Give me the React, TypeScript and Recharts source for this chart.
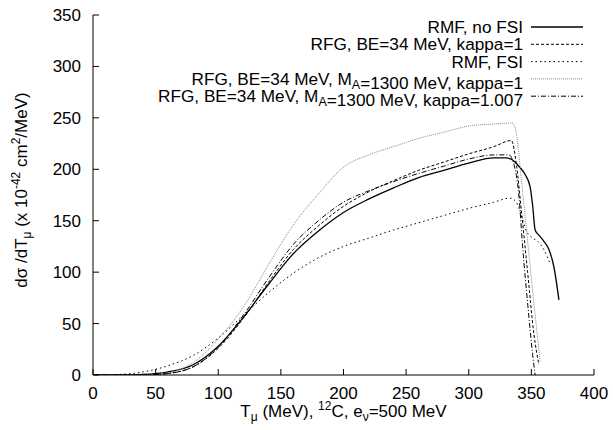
import React from "react";
import { LineChart, Line, XAxis, YAxis } from "recharts";

const FONT = "'Liberation Sans', Arial, Helvetica, sans-serif";

// muon kinetic energy grid (MeV) and d sigma / dT values
const rmfNoFsiT = [0, 20, 40, 60, 80, 100, 120, 140, 160, 180, 200, 220, 240, 260, 280, 300, 320, 330, 335, 340, 345, 349, 351, 353, 356, 360, 364, 368, 372];
const rmfNoFsiV = [0, 0, 0.5, 3, 10, 28, 56, 88, 118, 140, 158, 171, 182, 192, 199, 206, 211, 211, 209, 203, 195, 183, 165, 141, 136, 130, 122, 105, 73];

const rfgK1T = [0, 40, 60, 80, 100, 120, 140, 160, 180, 200, 220, 240, 260, 280, 300, 320, 334, 338, 342, 347, 352, 356];
const rfgK1V = [0, 0, 1.5, 8, 26, 55, 90, 122, 145, 164, 178, 189, 199, 207, 215, 222, 228, 205, 160, 100, 40, 10];

const rmfFsiT = [0, 20, 40, 60, 80, 100, 120, 140, 160, 180, 200, 220, 240, 260, 280, 300, 320, 333, 338, 342, 346, 350, 355, 360, 365];
const rmfFsiV = [0, 0.5, 3, 9, 19, 36, 58, 80, 99, 114, 125, 133, 141, 148, 155, 162, 168, 172, 168, 155, 140, 134, 130, 122, 108];

const rfgMaK1T = [0, 40, 60, 80, 100, 120, 140, 160, 180, 200, 220, 240, 260, 280, 300, 320, 335, 338, 342, 347, 352, 357];
const rfgMaK1V = [0, 0, 2, 12, 35, 66, 107, 146, 176, 202, 214, 222, 230, 236, 242, 244, 245, 235, 190, 130, 70, 14];

const rfgMaK1007T = [0, 40, 60, 80, 100, 120, 140, 160, 180, 200, 220, 240, 260, 280, 300, 320, 332, 336, 340, 343, 347, 351, 353];
const rfgMaK1007V = [0, 0, 1.5, 8, 27, 58, 94, 127, 150, 168, 179, 188, 196, 203, 210, 214, 214, 205, 175, 125, 70, 20, 0];

const xTicks = [0, 50, 100, 150, 200, 250, 300, 350, 400];
const yTicks = [0, 50, 100, 150, 200, 250, 300, 350];

const zip = (t: number[], v: number[]) => t.map((x, i) => ({ x, y: v[i] }));

const series = [
  { name: "RMF, no FSI", data: zip(rmfNoFsiT, rmfNoFsiV), stroke: "#000", dash: undefined, width: 1.3 },
  { name: "RFG, BE=34 MeV, kappa=1", data: zip(rfgK1T, rfgK1V), stroke: "#000", dash: "3 2", width: 1 },
  { name: "RMF, FSI", data: zip(rmfFsiT, rmfFsiV), stroke: "#000", dash: "1.5 3", width: 1 },
  { name: "RFG, BE=34 MeV, M_A=1300 MeV, kappa=1", data: zip(rfgMaK1T, rfgMaK1V), stroke: "#888", dash: "1 1", width: 1 },
  { name: "RFG, BE=34 MeV, M_A=1300 MeV, kappa=1.007", data: zip(rfgMaK1007T, rfgMaK1007V), stroke: "#000", dash: "5 2 1 2", width: 1 },
];

// turns "M_A" into M with a subscript A
const withSubs = (s: string) => {
  const parts = s.split(/_(\w)/);
  return parts.map((p, i) =>
    i % 2 === 1 ? (
      <React.Fragment key={i}>
        <tspan dy={4} fontSize={12.5}>{p}</tspan>
        <tspan dy={-4}>{""}</tspan>
      </React.Fragment>
    ) : (
      <tspan key={i}>{p}</tspan>
    )
  );
};

const XLabel = (props: any) => {
  const vb = props.viewBox;
  return (
    <text x={vb.x + vb.width / 2} y={vb.y + 42} textAnchor="middle" fontSize={17} fontFamily={FONT} fill="#000">
      <tspan>T</tspan>
      <tspan dy={4} fontSize={12}>μ</tspan>
      <tspan dy={-4}> (MeV), </tspan>
      <tspan dy={-7} fontSize={12}>12</tspan>
      <tspan dy={7}>C,  e</tspan>
      <tspan dy={4} fontSize={12}>ν</tspan>
      <tspan dy={-4}>=500 MeV</tspan>
    </text>
  );
};

const YLabel = (props: any) => {
  const vb = props.viewBox;
  const cx = 27;
  const cy = vb.y + vb.height / 2 - 5;
  return (
    <text x={cx} y={cy} transform={`rotate(-90 ${cx} ${cy})`} textAnchor="middle" fontSize={17} fontFamily={FONT} fill="#000">
      <tspan>dσ /dT</tspan>
      <tspan dy={4} fontSize={12}>μ</tspan>
      <tspan dy={-4}> (x 10</tspan>
      <tspan dy={-7} fontSize={12}>-42</tspan>
      <tspan dy={7}> cm</tspan>
      <tspan dy={-7} fontSize={12}>2</tspan>
      <tspan dy={7}>/MeV)</tspan>
    </text>
  );
};

const Key = () => (
  <svg width={613} height={430} style={{ position: "absolute", left: 0, top: 0, pointerEvents: "none" }}>
    {series.map((s, i) => {
      const y = 27 + i * 17.3;
      return (
        <g key={s.name}>
          <text x={523} y={y + 6} textAnchor="end" fontSize={17.2} fontFamily={FONT} fill="#000">
            {withSubs(s.name)}
          </text>
          <line x1={531} x2={583} y1={y} y2={y} stroke={s.stroke} strokeWidth={s.width} strokeDasharray={s.dash} />
        </g>
      );
    })}
  </svg>
);

const axisStyle = { stroke: "#000", strokeWidth: 1 };
const tickStyle = { fill: "#000", fontSize: 17, fontFamily: FONT };

export default function App() {
  return (
    <div style={{ position: "absolute", left: 0, top: 0, width: 613, height: 430, background: "#fff" }}>
      <LineChart width={613} height={430} margin={{ top: 15, right: 19, bottom: 0, left: 0 }}>
        <XAxis
          xAxisId="b"
          dataKey="x"
          type="number"
          domain={[0, 400]}
          ticks={xTicks}
          height={55}
          tickSize={-6}
          tickMargin={18}
          axisLine={axisStyle}
          tickLine={axisStyle}
          tick={tickStyle}
          allowDataOverflow
          label={{ content: XLabel }}
        />
        <XAxis
          xAxisId="t"
          orientation="top"
          type="number"
          domain={[0, 400]}
          ticks={xTicks}
          height={0}
          tickSize={-6}
          tickFormatter={() => ""}
          axisLine={axisStyle}
          tickLine={axisStyle}
          allowDataOverflow
        />
        <YAxis
          yAxisId="l"
          type="number"
          domain={[0, 350]}
          ticks={yTicks}
          width={93}
          tickSize={-6}
          tickMargin={18}
          axisLine={axisStyle}
          tickLine={axisStyle}
          tick={tickStyle}
          allowDataOverflow
          label={{ content: YLabel }}
        />
        <YAxis
          yAxisId="r"
          orientation="right"
          type="number"
          domain={[0, 350]}
          ticks={yTicks}
          width={0}
          tickSize={-6}
          tickFormatter={() => ""}
          axisLine={axisStyle}
          tickLine={axisStyle}
          allowDataOverflow
        />
        {series.map((s) => (
          <Line
            key={s.name}
            xAxisId="b"
            yAxisId="l"
            data={s.data}
            dataKey="y"
            type="monotone"
            stroke={s.stroke}
            strokeWidth={s.width}
            strokeDasharray={s.dash}
            dot={false}
            activeDot={false}
            isAnimationActive={false}
          />
        ))}
      </LineChart>
      <Key />
    </div>
  );
}
